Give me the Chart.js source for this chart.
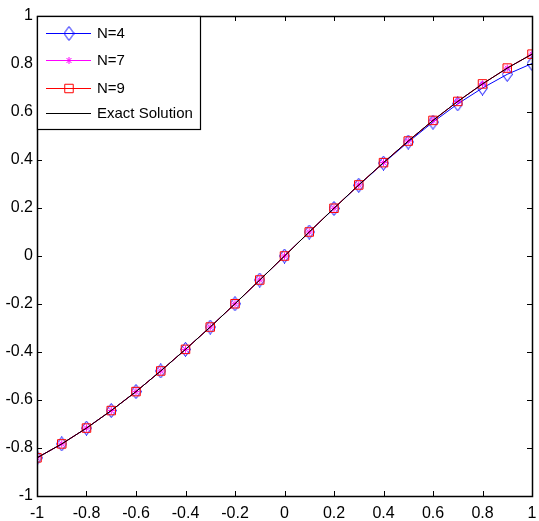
<!DOCTYPE html>
<html>
<head>
<meta charset="utf-8">
<script src="https://cdn.jsdelivr.net/npm/chart.js@4.4.1/dist/chart.umd.min.js"></script>
<style>
  html, body { margin: 0; padding: 0; background: #fff; }
  #wrap { width: 539px; height: 521px; }
</style>
</head>
<body>
<div id="wrap"><canvas id="plot" width="539" height="521"></canvas></div>
<script>
// values
var xValues = [-1, -0.9, -0.8, -0.7, -0.6, -0.5, -0.4, -0.3, -0.2, -0.1, 0, 0.1, 0.2, 0.3, 0.4, 0.5, 0.6, 0.7, 0.8, 0.9, 1];
var n4 = [-0.841, -0.783, -0.717, -0.644, -0.565, -0.479, -0.389, -0.296, -0.199, -0.1, 0, 0.1, 0.198, 0.295, 0.387, 0.475, 0.558, 0.634, 0.700, 0.757, 0.802];
var n7 = [-0.841, -0.783, -0.717, -0.644, -0.565, -0.479, -0.389, -0.296, -0.199, -0.1, 0, 0.1, 0.199, 0.296, 0.389, 0.479, 0.565, 0.644, 0.717, 0.783, 0.841];
var n9 = [-0.841, -0.783, -0.717, -0.644, -0.565, -0.479, -0.389, -0.296, -0.199, -0.1, 0, 0.1, 0.199, 0.296, 0.389, 0.479, 0.565, 0.644, 0.717, 0.783, 0.841];
var exact = [-0.841, -0.783, -0.717, -0.644, -0.565, -0.479, -0.389, -0.296, -0.199, -0.1, 0, 0.1, 0.199, 0.296, 0.389, 0.479, 0.565, 0.644, 0.717, 0.783, 0.841];
var seriesNames = ['N=4', 'N=7', 'N=9', 'Exact Solution'];
var xTicks = [-1, -0.8, -0.6, -0.4, -0.2, 0, 0.2, 0.4, 0.6, 0.8, 1];
var yTicks = [-1, -0.8, -0.6, -0.4, -0.2, 0, 0.2, 0.4, 0.6, 0.8, 1];

function pts(ys) {
    return xValues.map(function (x, i) { return { x: x, y: ys[i] }; });
}

// tall open diamond like matlab's marker
function diamond(color) {
    var c = document.createElement('canvas');
    c.width = 11; c.height = 15;
    var g = c.getContext('2d');
    g.strokeStyle = color;
    g.lineWidth = 1;
    g.beginPath();
    g.moveTo(5.5, 0.5);
    g.lineTo(10.5, 7.5);
    g.lineTo(5.5, 14.5);
    g.lineTo(0.5, 7.5);
    g.closePath();
    g.stroke();
    return c;
}
var diamondBlue = diamond('#0000ff');

function fmt(v) {
    return (Math.round(v * 10) / 10).toString();
}

var frame = {
    id: 'frame',
    afterDraw: function (chart) {
        var ctx = chart.ctx, a = chart.chartArea;
        var xs = chart.scales.x, ys = chart.scales.y;
        ctx.save();
        ctx.strokeStyle = '#000';
        ctx.lineWidth = 1;
        // inward ticks on all four sides
        ctx.beginPath();
        xTicks.forEach(function (t) {
            var px = Math.round(xs.getPixelForValue(t)) + 0.5;
            ctx.moveTo(px, a.bottom); ctx.lineTo(px, a.bottom - 5);
            ctx.moveTo(px, a.top); ctx.lineTo(px, a.top + 5);
        });
        yTicks.forEach(function (t) {
            var py = Math.round(ys.getPixelForValue(t)) + 0.5;
            ctx.moveTo(a.left, py); ctx.lineTo(a.left + 5, py);
            ctx.moveTo(a.right, py); ctx.lineTo(a.right - 5, py);
        });
        ctx.stroke();
        ctx.lineWidth = 1.5;
        ctx.strokeRect(Math.round(a.left) + 0.5, Math.round(a.top) + 0.5,
            Math.round(a.right - a.left), Math.round(a.bottom - a.top));

        // legend box
        var bx = Math.round(a.left) + 0.5, by = Math.round(a.top) + 0.5;
        ctx.fillStyle = '#fff';
        ctx.fillRect(bx, by, 163, 113);
        ctx.lineWidth = 1.2;
        ctx.strokeRect(bx, by, 163, 113);
        var rows = [33, 60, 88, 113];
        ctx.font = '15px "Liberation Sans", Arial, sans-serif';
        ctx.textBaseline = 'middle';
        chart.data.datasets.forEach(function (ds, i) {
            var y = rows[i];
            ctx.strokeStyle = ds.borderColor;
            ctx.lineWidth = 1;
            ctx.beginPath();
            ctx.moveTo(46, y + 0.5); ctx.lineTo(91, y + 0.5);
            ctx.stroke();
            if (ds.pointRadius > 0) {
                ctx.fillStyle = 'rgba(0,0,0,0)';
                Chart.helpers.drawPoint(ctx, {
                    pointStyle: ds.pointStyle,
                    radius: ds.pointRadius,
                    borderWidth: 1,
                    rotation: 0
                }, 69, y + 0.5);
            }
            ctx.fillStyle = '#000';
            ctx.fillText(seriesNames[i], 97, y + 1);
        });
        ctx.restore();
    }
};

var ctx = document.getElementById('plot').getContext('2d');
var chart = new Chart(ctx, {
    type: 'scatter',
    data: {
        datasets: [{
            label: seriesNames[0],
            data: pts(n4),
            showLine: true,
            borderColor: '#0000ff',
            borderWidth: 1,
            pointStyle: diamondBlue,
            pointRadius: 6,
            order: 3
        }, {
            label: seriesNames[1],
            data: pts(n7),
            showLine: true,
            borderColor: '#ff00ff',
            borderWidth: 1,
            pointStyle: 'star',
            pointRadius: 3.5,
            pointBorderWidth: 1,
            order: 2
        }, {
            label: seriesNames[2],
            data: pts(n9),
            showLine: true,
            borderColor: '#ff0000',
            borderWidth: 1,
            pointStyle: 'rect',
            pointRadius: 6,
            pointBorderWidth: 1,
            pointBackgroundColor: 'rgba(0,0,0,0)',
            order: 1
        }, {
            label: seriesNames[3],
            data: pts(exact),
            showLine: true,
            borderColor: '#000000',
            borderWidth: 1,
            pointRadius: 0,
            order: 0
        }]
    },
    options: {
        responsive: false,
        animation: false,
        layout: { padding: { top: 16, right: 6, left: 0, bottom: 0 } },
        plugins: {
            legend: { display: false },
            tooltip: { enabled: false }
        },
        scales: {
            x: {
                type: 'linear',
                min: -1, max: 1,
                afterFit: function (s) { s.height = 25; s.paddingLeft = 0; s.paddingRight = 0; },
                afterBuildTicks: function (s) { s.ticks = xTicks.map(function (v) { return { value: v }; }); },
                grid: { display: false, drawTicks: false },
                border: { display: false },
                ticks: {
                    color: '#000',
                    padding: 8,
                    maxRotation: 0,
                    font: { family: '"Liberation Sans", Arial, sans-serif', size: 16 },
                    callback: function (v) { return fmt(v); }
                }
            },
            y: {
                type: 'linear',
                min: -1, max: 1,
                afterFit: function (s) { s.width = 37; s.paddingTop = 0; s.paddingBottom = 0; },
                afterBuildTicks: function (s) { s.ticks = yTicks.map(function (v) { return { value: v }; }); },
                grid: { display: false, drawTicks: false },
                border: { display: false },
                ticks: {
                    color: '#000',
                    padding: 4,
                    font: { family: '"Liberation Sans", Arial, sans-serif', size: 16 },
                    callback: function (v) { return fmt(v); }
                }
            }
        }
    },
    plugins: [frame]
});
</script>
</body>
</html>
